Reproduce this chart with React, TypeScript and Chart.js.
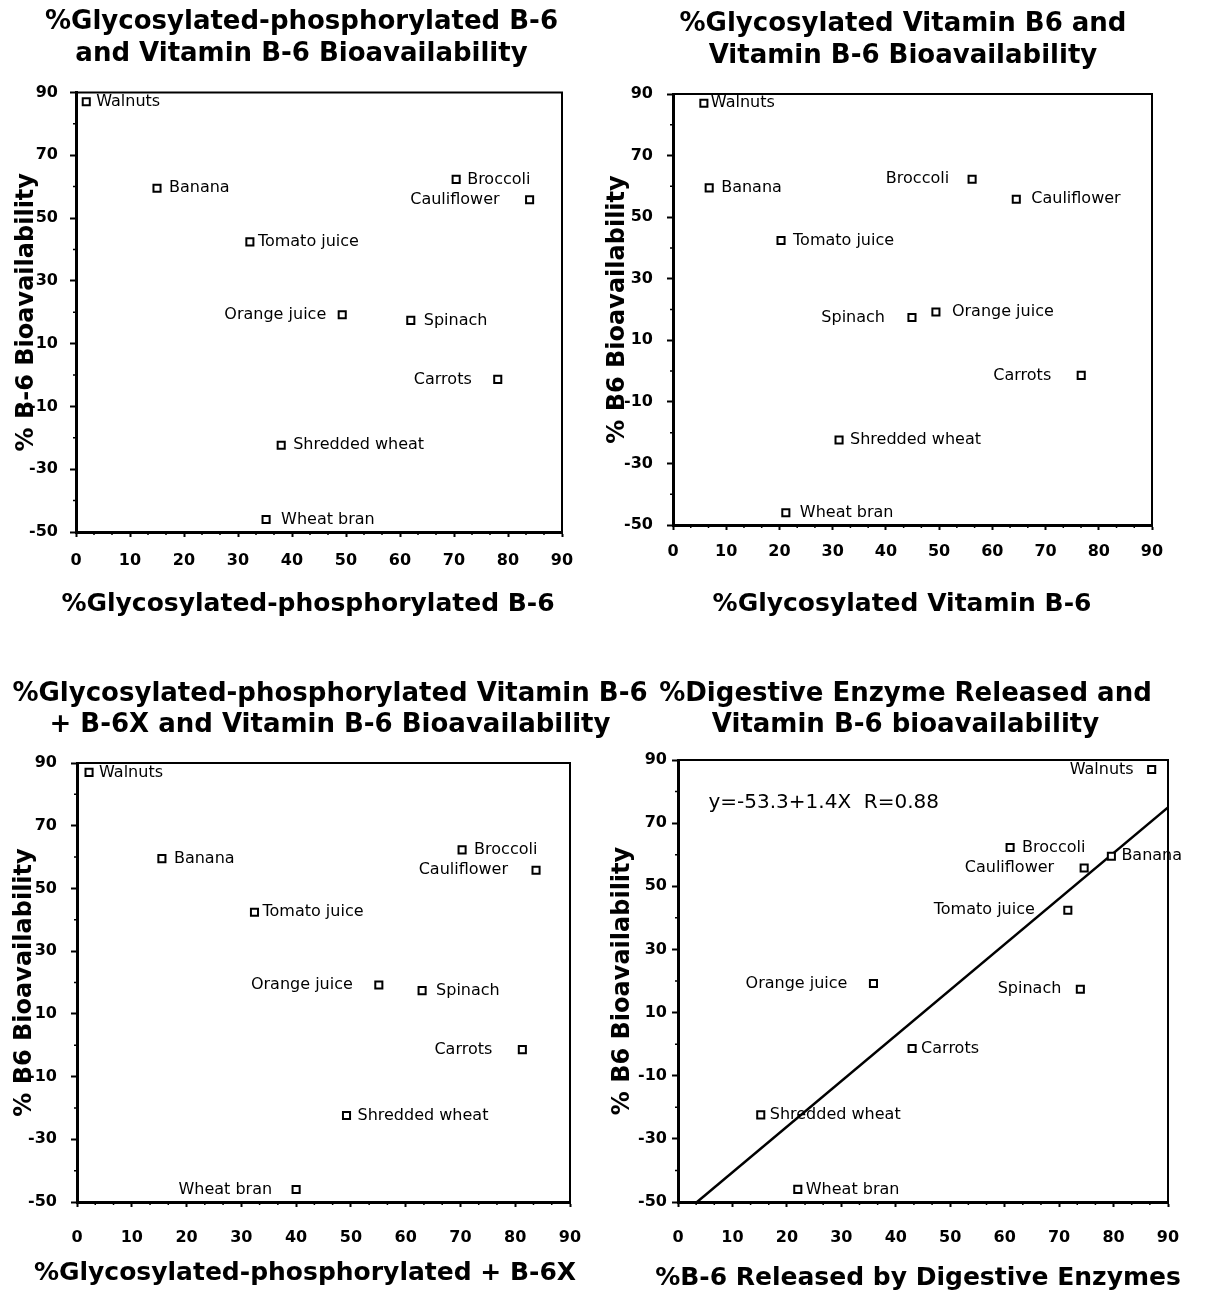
import React, { useEffect, useRef } from 'react';
import { Chart, registerables } from 'chart.js';

Chart.register(...registerables);
Chart.defaults.color = '#000';

// ---------- data ----------
const foods = ['Walnuts', 'Banana', 'Broccoli', 'Cauliflower', 'Tomato juice', 'Orange juice', 'Spinach', 'Carrots', 'Shredded wheat', 'Wheat bran'];

// % B-6 bioavailability (same for every panel)
const bioavailability = [87, 59.5, 62.3, 55.8, 42.4, 19.2, 17.4, -1.4, -22.4, -46];

// x values per panel
const glycPhos = [1.9, 15, 70.4, 84, 32.2, 49.3, 62, 78.1, 38, 35.2];
const glycosylated = [5.8, 6.8, 56.2, 64.5, 20.3, 49.4, 44.9, 76.7, 31.2, 21.2];
const glycPhosB6X = [2.2, 15.5, 70.3, 83.8, 32.4, 55.1, 63, 81.3, 49.2, 40];
const releasedByEnzymes = [87, 79.6, 61, 74.6, 71.6, 35.9, 73.9, 43, 15.2, 22];

// regression line end points (panel 4)
const fitX = [3.5, 90];
const fitY = [-50, 75];
const fitLabel = 'y=-53.3+1.4X  R=0.88';

const xTicks = { min: 0, max: 90, step: 10 };
const yTicks = { min: -50, max: 90, step: 20 };

// label placement (side of marker)
const sides1 = ['r', 'r', 'r', 'l', 'r', 'l', 'r', 'l', 'r', 'r'];
const gaps1 = [10, 12, 11, 30, 8, 16, 13, 26, 12, 15];
const sides2 = ['r', 'r', 'l', 'r', 'r', 'r', 'l', 'l', 'r', 'r'];
const gaps2 = [7, 12, 23, 15, 12, 16, 27, 30, 11, 14];
const sides3 = ['r', 'r', 'r', 'l', 'r', 'l', 'r', 'l', 'r', 'l'];
const gaps3 = [10, 12, 12, 28, 8, 26, 14, 30, 11, 24];
const sides4 = ['l', 'r', 'r', 'l', 'l', 'l', 'l', 'r', 'r', 'r'];
const gaps4 = [18, 10, 12, 30, 33, 26, 19, 9, 9, 8];

const FONT = '"DejaVu Sans", "Liberation Sans", Arial, sans-serif';

type PanelCfg = {
  left: number; top: number; w: number; h: number;
  title: string[]; titlePadTop: number; titlePadBottom: number;
  yTitle: string; yTitlePad: number; yWidth: number; yTickPad: number;
  xHeight: number; xTickPad: number; padRight: number;
  xTitle: string; xTitleX: number; xTitleY: number;
  xs: number[]; sides: string[]; gaps: number[];
  fit?: boolean;
};

const panels: PanelCfg[] = [
  {
    left: 0, top: 0, w: 603, h: 650,
    title: ['%Glycosylated-phosphorylated B-6', 'and Vitamin B-6 Bioavailability'], titlePadTop: 7, titlePadBottom: 23,
    yTitle: '% B-6 Bioavailability', yTitlePad: 12, yWidth: 76, yTickPad: 12,
    xHeight: 118, xTickPad: 14, padRight: 41,
    xTitle: '%Glycosylated-phosphorylated B-6', xTitleX: 308, xTitleY: 604,
    xs: glycPhos, sides: sides1, gaps: gaps1,
  },
  {
    left: 600, top: 0, w: 606, h: 650,
    title: ['%Glycosylated Vitamin B6 and', 'Vitamin B-6 Bioavailability'], titlePadTop: 9, titlePadBottom: 22.6,
    yTitle: '% B6 Bioavailability', yTitlePad: 3, yWidth: 73, yTickPad: 14,
    xHeight: 125, xTickPad: 12, padRight: 54,
    xTitle: '%Glycosylated Vitamin B-6', xTitleX: 302, xTitleY: 604,
    xs: glycosylated, sides: sides2, gaps: gaps2,
  },
  {
    left: 0, top: 655, w: 660, h: 652,
    title: ['%Glycosylated-phosphorylated Vitamin B-6', '+ B-6X and Vitamin B-6 Bioavailability'], titlePadTop: 23.4, titlePadBottom: 22.2,
    yTitle: '% B6 Bioavailability', yTitlePad: 10, yWidth: 77, yTickPad: 14,
    xHeight: 105, xTickPad: 21, padRight: 90,
    xTitle: '%Glycosylated-phosphorylated + B-6X', xTitleX: 305, xTitleY: 618,
    xs: glycPhosB6X, sides: sides3, gaps: gaps3,
  },
  {
    left: 605, top: 655, w: 601, h: 652,
    title: ['%Digestive Enzyme Released and', 'Vitamin B-6 bioavailability'], titlePadTop: 23.4, titlePadBottom: 19.2,
    yTitle: '% B6 Bioavailability', yTitlePad: 3, yWidth: 73, yTickPad: 5,
    xHeight: 105, xTickPad: 21, padRight: 38,
    xTitle: '%B-6 Released by Digestive Enzymes', xTitleX: 313, xTitleY: 623,
    xs: releasedByEnzymes, sides: sides4, gaps: gaps4, fit: true,
  },
];

function makeDecor(cfg: PanelCfg) {
  return {
    id: 'decor',
    afterDatasetsDraw(chart: any) {
      const { ctx, chartArea: ca, scales } = chart;
      const xs = scales.x;
      const ys = scales.y;
      ctx.save();
      ctx.strokeStyle = '#000';
      ctx.lineWidth = 2;
      ctx.beginPath();
      ctx.moveTo(ca.left, ca.top);
      ctx.lineTo(ca.right, ca.top);
      ctx.lineTo(ca.right, ca.bottom);
      ctx.stroke();
      // minor ticks
      ctx.lineWidth = 1.5;
      ctx.beginPath();
      for (let i = 0; i <= 27; i++) {
        if (i % 3 === 0) continue;
        const px = xs.getPixelForValue((i * 10) / 3);
        ctx.moveTo(px, ca.bottom);
        ctx.lineTo(px, ca.bottom + 3);
      }
      for (let v = yTicks.min + 10; v < yTicks.max; v += 20) {
        const py = ys.getPixelForValue(v);
        ctx.moveTo(ca.left, py);
        ctx.lineTo(ca.left - 3, py);
      }
      ctx.stroke();
      // point labels
      const meta = chart.getDatasetMeta(0);
      ctx.font = `16px ${FONT}`;
      ctx.fillStyle = '#000';
      ctx.textBaseline = 'middle';
      meta.data.forEach((pt: any, i: number) => {
        const left = cfg.sides[i] === 'l';
        ctx.textAlign = left ? 'right' : 'left';
        ctx.fillText(foods[i], pt.x + (left ? -cfg.gaps[i] : cfg.gaps[i]), pt.y);
      });
      // regression equation
      if (cfg.fit) {
        ctx.font = `20px ${FONT}`;
        ctx.textAlign = 'left';
        ctx.fillText(fitLabel, xs.getPixelForValue(5.6), ys.getPixelForValue(76.3));
      }
      // x axis title
      ctx.font = `bold 25px ${FONT}`;
      ctx.textAlign = 'center';
      ctx.fillText(cfg.xTitle, cfg.xTitleX, cfg.xTitleY);
      ctx.restore();
    },
  };
}

function buildConfig(cfg: PanelCfg): any {
  const datasets: any[] = [
    {
      type: 'scatter',
      data: foods.map((_, i) => ({ x: cfg.xs[i], y: bioavailability[i] })),
      pointStyle: 'rect',
      pointRadius: 5,
      pointHoverRadius: 5,
      borderColor: '#000',
      borderWidth: 2,
      backgroundColor: '#fff',
    },
  ];
  if (cfg.fit) {
    datasets.push({
      type: 'line',
      data: fitX.map((x, i) => ({ x, y: fitY[i] })),
      borderColor: '#000',
      borderWidth: 2.5,
      pointRadius: 0,
      fill: false,
    });
  }
  return {
    type: 'scatter',
    data: { datasets },
    options: {
      animation: false,
      responsive: false,
      devicePixelRatio: 1,
      events: [],
      layout: { padding: 0 },
      plugins: {
        legend: { display: false },
        tooltip: { enabled: false },
        title: {
          display: true,
          text: cfg.title,
          color: '#000',
          font: { family: FONT, size: 26, weight: 'bold', lineHeight: 1.2 },
          padding: { top: cfg.titlePadTop, bottom: cfg.titlePadBottom },
        },
      },
      scales: {
        x: {
          type: 'linear',
          min: xTicks.min,
          max: xTicks.max,
          afterFit: (s: any) => { s.height = cfg.xHeight; },
          ticks: { stepSize: xTicks.step, color: '#000', padding: cfg.xTickPad, font: { family: FONT, size: 16, weight: 'bold', lineHeight: 1.2 } },
          grid: { drawOnChartArea: false, drawTicks: true, tickLength: 5, tickWidth: 2, tickColor: '#000' },
          border: { display: true, color: '#000', width: 3 },
        },
        y: {
          type: 'linear',
          min: yTicks.min,
          max: yTicks.max,
          afterFit: (s: any) => { s.width = cfg.yWidth; },
          ticks: { stepSize: yTicks.step, color: '#000', padding: cfg.yTickPad, font: { family: FONT, size: 16, weight: 'bold', lineHeight: 1.2 } },
          grid: { drawOnChartArea: false, drawTicks: true, tickLength: 6, tickWidth: 2, tickColor: '#000' },
          border: { display: true, color: '#000', width: 3 },
          title: {
            display: true,
            text: cfg.yTitle,
            color: '#000',
            font: { family: FONT, size: 24, weight: 'bold', lineHeight: 1.2 },
            padding: { top: cfg.yTitlePad, bottom: 0 },
          },
        },
        // empty spacer on the right so the titles can use the full canvas width
        spacer: {
          type: 'linear',
          position: 'right',
          display: true,
          afterFit: (s: any) => { s.width = cfg.padRight; },
          ticks: { display: false },
          grid: { display: false, drawTicks: false },
          border: { display: false },
        },
      },
    },
    plugins: [makeDecor(cfg)],
  };
}

function Panel({ cfg }: { cfg: PanelCfg }) {
  const ref = useRef<HTMLCanvasElement>(null);
  useEffect(() => {
    if (!ref.current) return;
    const chart = new Chart(ref.current, buildConfig(cfg));
    return () => chart.destroy();
  }, [cfg]);
  return (
    <canvas
      ref={ref}
      width={cfg.w}
      height={cfg.h}
      style={{ position: 'absolute', left: cfg.left, top: cfg.top, width: cfg.w, height: cfg.h, display: 'block' }}
    />
  );
}

export default function App() {
  return (
    <div style={{ position: 'absolute', left: 0, top: 0, width: 1206, height: 1307, background: '#fff', overflow: 'hidden' }}>
      {panels.map((p, i) => (
        <Panel key={i} cfg={p} />
      ))}
    </div>
  );
}
